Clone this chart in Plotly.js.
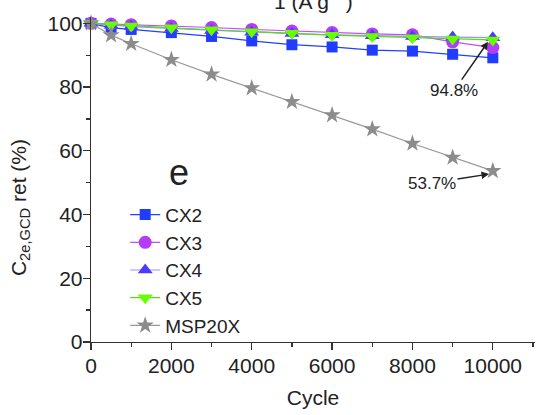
<!DOCTYPE html>
<html>
<head>
<meta charset="utf-8">
<script src="https://cdn.plot.ly/plotly-3.0.1.min.js"></script>
<style>html,body{margin:0;padding:0;background:#fff;}#chart{width:536px;height:415px;}</style>
</head>
<body>
<div id="chart"></div>
<script>
var cycles = [0, 500, 1000, 2000, 3000, 4000, 5000, 6000, 7000, 8000, 9000, 10000];
var cx2 = [100, 98.6, 98.1, 97.1, 95.9, 94.5, 93.3, 92.6, 91.6, 91.3, 90.3, 89.2];
var cx3 = [100, 99.8, 99.6, 99.2, 98.7, 98.1, 97.6, 97.1, 96.7, 96.4, 94.2, 92.4];
var cx4 = [100, 99.4, 99.0, 98.4, 97.8, 97.2, 96.8, 96.4, 96.1, 95.9, 95.7, 95.5];
var cx5 = [100, 99.6, 99.2, 98.6, 98.0, 97.4, 96.9, 96.3, 95.9, 95.5, 95.1, 94.8];
var msp20x = [100, 96.3, 93.6, 88.6, 84.0, 79.7, 75.4, 71.2, 66.8, 62.3, 57.9, 53.7];
var seriesNames = ["CX2", "CX3", "CX4", "CX5", "MSP20X"];
var xTicks = [0, 2000, 4000, 6000, 8000, 10000];
var xTickText = ["0", "2000", "4000", "6000", "8000", "10000"];
var yTicks = [0, 20, 40, 60, 80, 100];

var FONT = "Liberation Sans, Arial, sans-serif";
var TXT = "#222222";

function tr(name, y, lineColor, markerColor, symbol, size) {
  return {
    x: cycles, y: y, name: name, type: "scatter", mode: "lines+markers",
    line: {color: lineColor, width: 1.2},
    marker: {color: markerColor, symbol: symbol, size: size, line: {width: 0}},
    cliponaxis: false
  };
}
var data = [
  tr(seriesNames[0], cx2, "#2040ff", "#1f3cff", "square", 11),
  tr(seriesNames[1], cx3, "#c050f0", "#b43cf5", "circle", 13),
  tr(seriesNames[2], cx4, "#9a90ff", "#4a3cff", "triangle-up", 13),
  tr(seriesNames[3], cx5, "#55dd11", "#66ff00", "triangle-down", 13),
  tr(seriesNames[4], msp20x, "#999999", "#8c8c8c", "star", 13)
];

var layout = {
  width: 536, height: 415,
  margin: {l: 91, r: 1, t: 17, b: 73, pad: 0},
  paper_bgcolor: "#ffffff", plot_bgcolor: "#ffffff",
  font: {family: FONT, size: 21, color: TXT},
  showlegend: true,
  legend: {x: 0.077, y: 0.45, xanchor: "left", yanchor: "top", bgcolor: "rgba(0,0,0,0)",
           font: {family: FONT, size: 19, color: TXT}, tracegroupgap: 0},
  xaxis: {
    range: [0, 11050], tickvals: xTicks, ticktext: xTickText, ticks: "outside", ticklen: 7, tickwidth: 1.3,
    tickcolor: "#333", showline: true, linecolor: "#333", linewidth: 1.3, ticklabelstandoff: -3,
    showgrid: false, zeroline: false, tickfont: {family: FONT, size: 21, color: TXT},
    minor: {dtick: 1000, ticks: "outside", ticklen: 4, tickwidth: 1.3, tickcolor: "#333", showgrid: false},
    title: {text: "Cycle", font: {family: FONT, size: 21, color: TXT}, standoff: 14}
  },
  yaxis: {
    range: [0, 102], tickvals: yTicks, ticks: "outside", ticklen: 7, tickwidth: 1.3,
    tickcolor: "#333", showline: true, linecolor: "#333", linewidth: 1.3, ticklabelstandoff: -4,
    showgrid: false, zeroline: false, tickfont: {family: FONT, size: 21, color: TXT},
    minor: {dtick: 10, ticks: "outside", ticklen: 4, tickwidth: 1.3, tickcolor: "#333", showgrid: false}
  },
  annotations: [
    {text: "C<sub>2e,GCD</sub> ret (%)", xref: "paper", yref: "paper", x: -0.16, y: 0.415,
     textangle: -90, showarrow: false, xanchor: "center", yanchor: "middle",
     font: {family: FONT, size: 21, color: TXT}},
    {text: "1 (A g<sup>−1</sup>)", xref: "paper", yref: "paper", x: 0.5, y: 1.053,
     showarrow: false, xanchor: "center", yanchor: "middle",
     font: {family: FONT, size: 21, color: TXT}},
    {text: "e", xref: "paper", yref: "paper", x: 0.198, y: 0.523, showarrow: false,
     xanchor: "center", yanchor: "middle", font: {family: FONT, size: 36, color: TXT}},
    {text: "94.8%", x: 9880, y: 94.2, ax: 9035, ay: 78.9, axref: "x", ayref: "y",
     showarrow: true, arrowhead: 2, arrowsize: 1, arrowwidth: 1.5, arrowcolor: "#222",
     font: {family: FONT, size: 17, color: TXT}},
    {text: "53.7%", x: 9905, y: 52.7, ax: 8487, ay: 49.9, axref: "x", ayref: "y",
     showarrow: true, arrowhead: 2, arrowsize: 1, arrowwidth: 1.5, arrowcolor: "#222",
     font: {family: FONT, size: 17, color: TXT}}
  ]
};
Plotly.newPlot("chart", data, layout, {displayModeBar: false, staticPlot: true});
</script>
</body>
</html>
